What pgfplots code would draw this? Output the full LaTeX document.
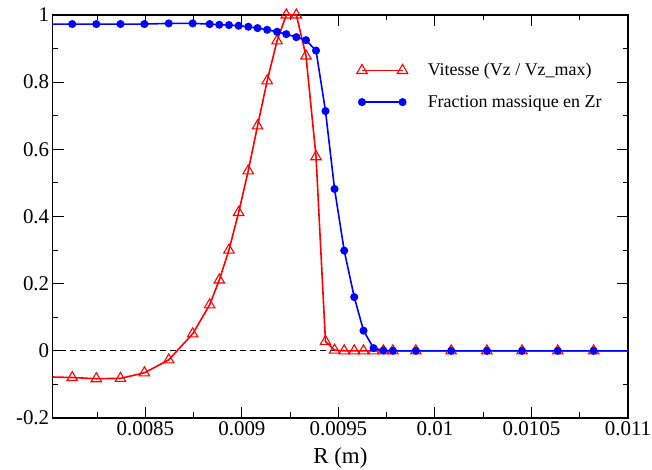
\documentclass[border=0pt]{standalone}
\usepackage{pgfplots}
\pgfplotsset{compat=1.18}
\usepackage{fontspec}
\setmainfont{Liberation Serif}

\begin{document}
% R (m), Vz/Vz_max, mass fraction Zr
\pgfplotstableread{
r        vit      zr
0.00796  -0.077   0.973
0.008121 -0.0795  0.973
0.008246 -0.083   0.973
0.008371 -0.082   0.973
0.008495 -0.0655  0.973
0.008621 -0.027   0.975
0.008745  0.0506  0.975
0.008833  0.137   0.973
0.008883  0.211   0.971
0.008933  0.300   0.970
0.008983  0.412   0.968
0.009033  0.536   0.965
0.009081  0.670   0.961
0.009131  0.804   0.956
0.009182  0.923   0.950
0.009230  1.000   0.943
0.009282  1.000   0.934
0.009332  0.878   0.925
0.009384  0.578   0.894
0.009433  0.028   0.714
0.009480  0.002   0.482
0.009530  0.0     0.2985
0.009582  0.0     0.160
0.009630  0.0     0.060
0.009682  0.0     0.008
0.009733  0.0     0.001
0.009782  0.0     0.0
0.009901  0.0     0.0
0.010084  0.0     0.0
0.010269  0.0     0.0
0.010451  0.0     0.0
0.010636  0.0     0.0
0.010822  0.0     0.0
0.01105   0.0     0.0
}\profil
\begin{tikzpicture}
\useasboundingbox (-52.7bp,-52bp) rectangle (599.3bp,418bp);
\begin{axis}[
  at={(0,0)}, anchor=south west,
  scale only axis, width=575.3bp, height=403bp,
  xmin=0.00802, xmax=0.011, ymin=-0.2, ymax=1,
  scaled x ticks=false,
  xtick={0.0085,0.009,0.0095,0.01,0.0105,0.011},
  xticklabels={0.0085,0.009,0.0095,0.01,0.0105,0.011},
  minor xtick={0.00825,0.00875,0.00925,0.00975,0.01025,0.01075},
  ytick={-0.2,0,0.2,0.4,0.6,0.8,1},
  yticklabels={-0.2,0,0.2,0.4,0.6,0.8,1},
  minor ytick={-0.1,0.1,0.3,0.5,0.7,0.9},
  major tick length=11bp, minor tick length=5.5bp,
  tick style={black, line width=1bp},
  axis line style={line width=1.5bp},
  tick label style={font=\fontsize{21}{24}\selectfont},
  xlabel={R (m)},
  xlabel style={font=\fontsize{23}{26}\selectfont, yshift=-5bp},
  legend image code/.code={\draw[#1] plot coordinates {(0bp,0bp) (40.6bp,0bp)};},
  legend style={draw=none, fill=none, font=\fontsize{18}{21}\selectfont,
    at={(rel axis cs:0.523,0.89)}, anchor=north west, row sep=14bp,
    column sep=18bp, cells={anchor=west}},
]
\addplot[black, dashed, dash pattern=on 6bp off 4bp, line width=0.8bp, forget plot]
  coordinates {(0.0079,0) (0.0111,0)};
\addplot[red, line width=1.6bp, mark=triangle, mark size=6bp,
  mark options={solid, line width=1.1bp}] table[x=r, y=vit] {\profil};
\addplot[blue, line width=1.6bp, mark=*, mark size=3.2bp,
  mark options={solid, fill=blue}] table[x=r, y=zr] {\profil};
\legend{Vitesse (Vz / Vz\_max), Fraction massique en Zr}
\end{axis}
\end{tikzpicture}
\end{document}
